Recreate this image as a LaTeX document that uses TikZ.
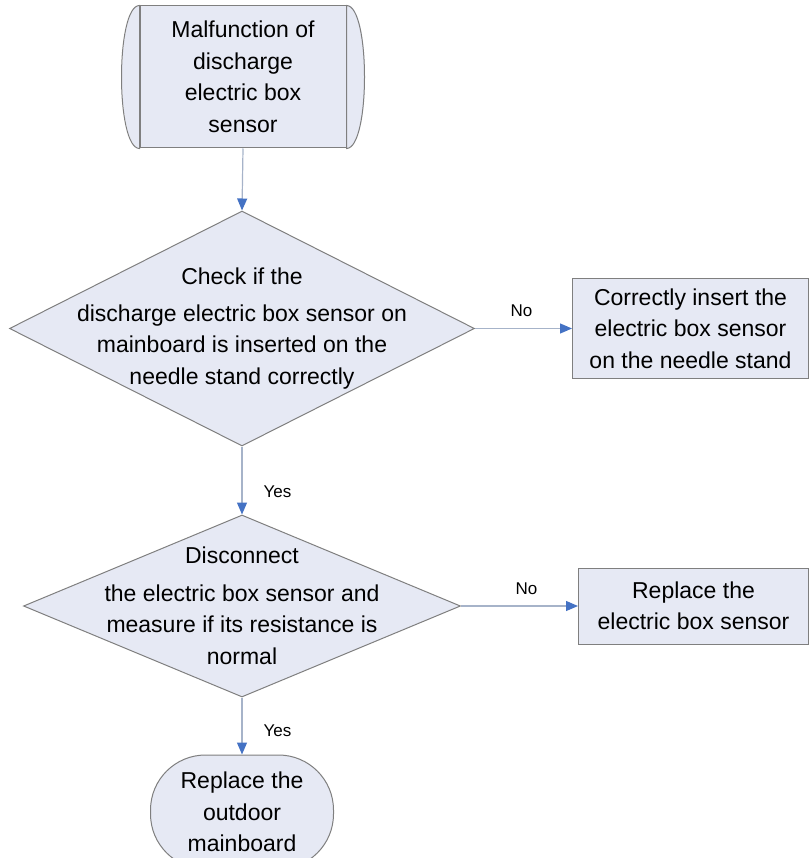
\documentclass[tikz,border=0pt]{standalone}
\usepackage{fontspec}
\setmainfont{Liberation Sans}
\usetikzlibrary{
  arrows.meta,
  shapes.geometric,
  positioning,
  calc
}
\definecolor{fcFill}{HTML}{E6E9F4}
\definecolor{fcEdge}{HTML}{7F7F7F}
\definecolor{fcLine}{HTML}{A6B3C9}
\definecolor{fcTip}{HTML}{4472C4}
\tikzset{
  fcnode/.style={
    draw=fcEdge, fill=fcFill, line width=1pt, align=center, inner sep=0pt,
    font=\fontsize{23}{31.5}\selectfont
  },
  procbox/.style={fcnode, minimum width=206pt, minimum height=142pt},
  bulge/.style={draw=fcEdge, fill=fcFill, line width=1pt},
  decision/.style={fcnode, diamond},
  actbox/.style={fcnode},
  endbox/.style={fcnode, rounded corners=55pt, minimum width=183pt, minimum height=114pt},
  fctext/.style={align=center, inner sep=0pt, font=\fontsize{23}{31.5}\selectfont},
  flow/.style={-{Triangle[length=12pt, width=10pt, color=fcTip]}, line width=1.2pt, fcLine},
  tag/.style={font=\fontsize{17}{20}\selectfont, inner sep=0pt, text=black}
}
\begin{document}
\begin{tikzpicture}[x=1pt, y=-1pt]
  \useasboundingbox (0,0) rectangle (810,858);
  % start
  \node[procbox] (start) at (243,77) {Malfunction of\\discharge\\electric box\\sensor};
  \draw[bulge] (start.north west) .. controls ($(start.north west)+(-24,0)$) and ($(start.south west)+(-24,0)$) .. (start.south west) -- cycle;
  \draw[bulge] (start.north east) .. controls ($(start.north east)+(24,0)$) and ($(start.south east)+(24,0)$) .. (start.south east) -- cycle;
  % checks
  \node[decision, minimum width=465pt, minimum height=235pt, below=62pt of start.south, anchor=north, xshift=-1pt] (chk) {};
  \node[fctext] (chktext) at (chk) {Check if the\\[5pt]discharge electric box sensor on\\mainboard is inserted on the\\needle stand correctly};
  \node[actbox, minimum width=236pt, minimum height=100pt, right=97pt of chk.east, anchor=west] (insert) {Correctly insert the\\electric box sensor\\on the needle stand};
  \node[decision, minimum width=437pt, minimum height=182pt, below=68pt of chk.south, anchor=north] (meas) {};
  \node[fctext] (meastext) at (meas) {Disconnect\\[6pt]the electric box sensor and\\measure if its resistance is\\normal};
  \node[actbox, minimum width=230pt, minimum height=76pt, right=117pt of meas.east, anchor=west] (sensor) {Replace the\\electric box sensor};
  \node[endbox, below=57pt of meas.south, anchor=north] (board) {Replace the\\outdoor\\mainboard};
  % arrows
  \draw[flow] (start.south) -- (chk.north);
  \draw[flow] (chk.east) -- node[tag, above=11pt, pos=0.48] (no1) {No} (insert.west);
  \draw[flow] (chk.south) -- node[tag, right=21pt, pos=0.66] (yes1) {Yes} (meas.north);
  \draw[flow] (meas.east) -- node[tag, above=11pt, pos=0.56] (no2) {No} (sensor.west);
  \draw[flow] (meas.south) -- node[tag, right=21pt, pos=0.58] (yes2) {Yes} (board.north);
\end{tikzpicture}
\end{document}
